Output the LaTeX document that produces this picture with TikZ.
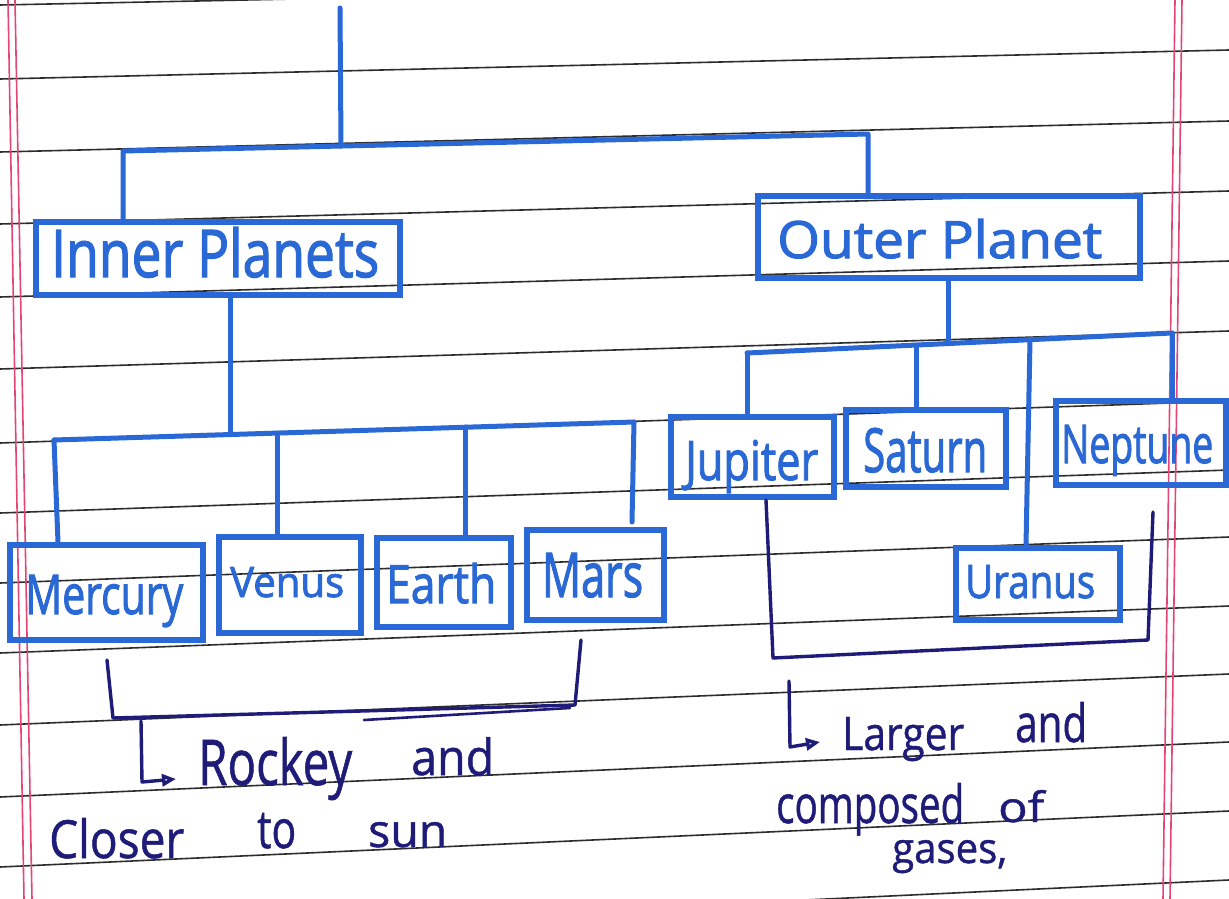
\documentclass[tikz,border=0pt]{standalone}
\usepackage{fontspec}
\setmainfont{Open Sans}
\newfontfamily\handbold{Open Sans}[FakeBold=2]
\newfontfamily\handnote{Open Sans}[FakeBold=1]
\usepackage{graphicx}
\usetikzlibrary{arrows.meta}
\definecolor{bink}{RGB}{42,104,214}
\definecolor{nink}{RGB}{30,28,120}
\definecolor{ruleink}{RGB}{45,45,45}
\definecolor{marginink}{RGB}{228,70,115}
\begin{document}
\begin{tikzpicture}[x=1pt,y=-1pt,
  pbox/.style={draw=bink, line width=5.5pt, inner sep=0pt},
  btext/.style={inner sep=0pt, anchor=base west, text=bink, font=\handbold},
  ntext/.style={inner sep=0pt, anchor=base west, text=nink, font=\handnote},
  conn/.style={draw=bink, line width=5pt, line cap=round, line join=round},
  navy/.style={draw=nink, line width=3.4pt, line cap=round, line join=round},
  ruled/.style={draw=ruleink, line width=1.6pt},
  marg/.style={draw=marginink, line width=1.6pt},
  pointer/.style={navy, -{Triangle[open,length=14pt,width=12pt]}}]
\useasboundingbox (0,0) rectangle (1229,899);
\fill[white] (0,0) rectangle (1229,899);
% ruled paper
\foreach \a/\b in {5/-20,79/50,152/121,224/191,297/261,369/331,443/401,513/470,583/537,653/606,725/674,797/742,867/811,938/880}
  \draw[ruled] (0,\a) -- (1229,\b);
\draw[marg] (8,0) -- (24,899);
\draw[marg] (15,0) -- (32,899);
\draw[marg] (1175,0) -- (1163,899);
\draw[marg] (1182,0) -- (1170,899);
% boxes
\node[pbox, minimum width=364pt, minimum height=73pt] (inner) at (218,258.5) {};
\node[pbox, minimum width=382pt, minimum height=82pt] (outer) at (949,237) {};
\node[pbox, minimum width=193pt, minimum height=95pt] (merc) at (106.5,592.5) {};
\node[pbox, minimum width=142pt, minimum height=96pt] (venus) at (290,585) {};
\node[pbox, minimum width=134pt, minimum height=89pt] (earth) at (444,582.5) {};
\node[pbox, minimum width=137pt, minimum height=90pt] (mars) at (595.5,575) {};
\node[pbox, minimum width=163pt, minimum height=80pt] (jup) at (752.5,457) {};
\node[pbox, minimum width=160pt, minimum height=77pt] (sat) at (926,448.5) {};
\node[pbox, minimum width=170pt, minimum height=84pt] (nep) at (1141,443) {};
\node[pbox, minimum width=164pt, minimum height=72pt] (ura) at (1038,584) {};
% box texts
\node[btext] (innerT) at (51,277) {\resizebox{328pt}{50pt}{Inner Planets}};
\node[btext] (outerT) at (777,258) {\resizebox{325pt}{39pt}{Outer Planet}};
\node[btext] (mercT) at (25,614) {\resizebox{158pt}{39pt}{Mercury}};
\node[btext] (venusT) at (230,597) {\resizebox{114pt}{30pt}{Venus}};
\node[btext] (earthT) at (386,603) {\resizebox{110pt}{40pt}{Earth}};
\node[btext] (marsT) at (542,597) {\resizebox{101pt}{44pt}{Mars}};
\node[btext] (jupT) at (685,480) {\resizebox{133pt}{40pt}{Jupiter}};
\node[btext] (satT) at (863,472) {\resizebox{124pt}{44pt}{Saturn}};
\node[btext] (nepT) at (1061,463) {\resizebox{152pt}{38pt}{Neptune}};
\node[btext] (uraT) at (965,598) {\resizebox{130pt}{33pt}{Uranus}};
% top tree
\coordinate (tTop) at (340,8);
\coordinate (tJ) at (341,146);
\coordinate (tA) at (123,151);
\coordinate (tB) at (868,134);
\draw[conn] (tTop) -- (tJ);
\draw[conn] (inner.north -| tA) -- (tA) -- (tB) -- (outer.north -| tB);
% inner tree
\coordinate (iJ) at (230,433);
\coordinate (iA) at (54,440);
\coordinate (iV) at (277,433);
\coordinate (iE) at (465,427);
\coordinate (iB) at (634,422);
\coordinate (iMarsEnd) at (632,522);
\draw[conn] (inner.south -| iJ) -- (iJ);
\draw[conn] (iA) -- (iB);
\draw[conn] (iA) -- (merc.north -| 58,0);
\draw[conn] (iV) -- (venus.north -| iV);
\draw[conn] (iE) -- (earth.north -| iE);
\draw[conn] (iB) -- (iMarsEnd);
% outer tree
\coordinate (oJ) at (948,343);
\coordinate (oA) at (747,353);
\coordinate (oS) at (916,345);
\coordinate (oU) at (1030,340);
\coordinate (oB) at (1172,333);
\draw[conn] (outer.south -| oJ) -- (oJ);
\draw[conn] (oA) -- (oB);
\draw[conn] (oA) -- (jup.north -| oA);
\draw[conn] (oS) -- (sat.north -| oS);
\draw[conn] (oU) -- (ura.north -| 1026,0);
\draw[conn] (oB) -- (nep.north -| oB);
% left bracket and note
\coordinate (lb1) at (107,660);
\coordinate (lb2) at (113,718);
\coordinate (lb3) at (575,705);
\coordinate (lb4) at (581,640);
\coordinate (lb5) at (364,720);
\coordinate (lb6) at (570,708);
\draw[navy] (lb1) -- (lb2) -- (lb3) -- (lb4);
\draw[navy, line width=2.6pt] (lb5) -- (lb6);
\coordinate (la1) at (141,721);
\coordinate (la2) at (142,782);
\coordinate (la3) at (176,779);
\draw[pointer] (la1) -- (la2) -- (la3);
\node[ntext] (rockT) at (198,785) {\resizebox{154pt}{48pt}{Rockey}};
\node[ntext] (andT) at (411,775) {\resizebox{83pt}{38pt}{and}};
\node[ntext] (closerT) at (49,858) {\resizebox{135pt}{40pt}{Closer}};
\node[ntext] (toT) at (257,848) {\resizebox{39pt}{35pt}{to}};
\node[ntext] (sunT) at (368,847) {\resizebox{79pt}{25pt}{sun}};
% right bracket and note
\coordinate (rb1) at (766,500);
\coordinate (rb2) at (773,658);
\coordinate (rb3) at (1148,640);
\coordinate (rb4) at (1153,512);
\draw[navy] (rb1) -- (rb2) -- (rb3) -- (rb4);
\coordinate (ra1) at (789,681);
\coordinate (ra2) at (790,747);
\coordinate (ra3) at (820,742);
\draw[pointer] (ra1) -- (ra2) -- (ra3);
\node[ntext] (largerT) at (842,750) {\resizebox{122pt}{33pt}{Larger}};
\node[ntext] (and2T) at (1015,742) {\resizebox{72pt}{40pt}{and}};
\node[ntext] (compT) at (776,823) {\resizebox{188pt}{40pt}{composed}};
\node[ntext] (ofT) at (998,822) {\resizebox{46pt}{32pt}{of}};
\node[ntext] (gasT) at (892,863) {\resizebox{115pt}{23pt}{gases,}};
\end{tikzpicture}
\end{document}
